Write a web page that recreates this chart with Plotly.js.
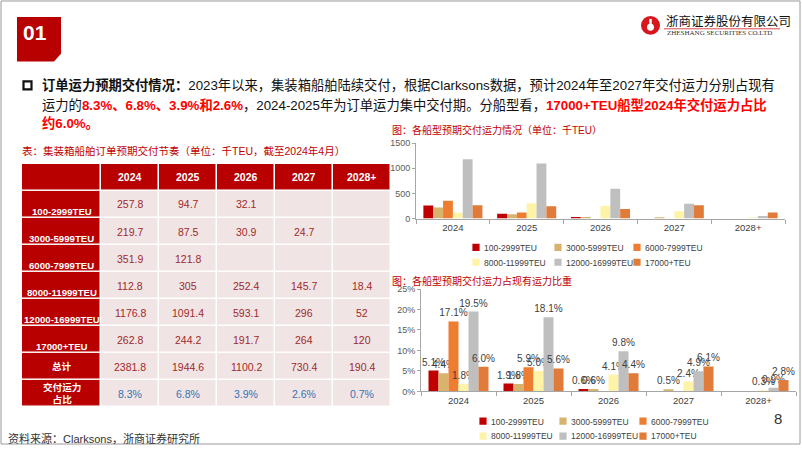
<!DOCTYPE html>
<html><head><meta charset="utf-8">
<script src="https://cdn.plot.ly/plotly-3.0.1.min.js"></script>
<style>
html,body{margin:0;padding:0;background:#fff;width:802px;height:451px;overflow:hidden;}
#chart{width:802px;height:451px;overflow:hidden;}
g.legendpoints path{transform:translate(32px,0px) scale(0.6) !important;}
</style>
</head><body><div id="chart"></div>
<script>
// ---------- data ----------
const years = ['2024', '2025', '2026', '2027', '2028+'];
const shipClasses = ['100-2999TEU', '3000-5999TEU', '6000-7999TEU', '8000-11999TEU', '12000-16999TEU', '17000+TEU'];
// delivery capacity, thousand TEU
const cap100 = [257.8, 94.7, 32.1, null, null];
const cap3000 = [219.7, 87.5, 30.9, 24.7, null];
const cap6000 = [351.9, 121.8, null, null, null];
const cap8000 = [112.8, 305, 252.4, 145.7, 18.4];
const cap12000 = [1176.8, 1091.4, 593.1, 296, 52];
const cap17000 = [262.8, 244.2, 191.7, 264, 120];
const capTotal = [2381.8, 1944.6, 1100.2, 730.4, 190.4];
const fleetShare = [8.3, 6.8, 3.9, 2.6, 0.7];
// share of existing fleet capacity, %
const pct100 = [5.1, 1.9, 0.6, null, null];
const pct3000 = [4.4, 1.8, 0.6, 0.5, null];
const pct6000 = [17.1, 5.9, null, null, null];
const pct8000 = [1.8, 5.0, 4.1, 2.4, 0.3];
const pct12000 = [19.5, 18.1, 9.8, 4.9, 0.9];
const pct17000 = [6.0, 5.6, 4.4, 6.1, 2.8];
const tableHeader = ['', '2024', '2025', '2026', '2027', '2028+'];
const tableRowLabels = ['', '100-2999TEU', '3000-5999TEU', '6000-7999TEU', '8000-11999TEU', '12000-16999TEU', '17000+TEU', '总计', '交付运力<br>占比'];

// ---------- styling ----------
const capacity = [cap100, cap3000, cap6000, cap8000, cap12000, cap17000];
const shares = [pct100, pct3000, pct6000, pct8000, pct12000, pct17000];
const barColors = ['#C00000', '#D8B36E', '#ED7D31', '#FFF3A8', '#BFBFBF', '#E07B39'];
const W = 802, H = 451;
const px = x => x / W, py = y => 1 - y / H;
const FONT = 'Liberation Sans, Arial, Noto Sans CJK SC, sans-serif';
const CJK = 'Liberation Sans, Noto Sans CJK SC, sans-serif';
const tableColWidths = [79, 58, 58, 58, 58, 58];
const RED = '#C00000';
// legend entry anchors (px): columns and rows for each chart
const leg1Cols = [444, 526, 605], leg1Rows = [249, 264];
const leg2Cols = [451, 531, 611], leg2Rows = [424, 439];

const traces = [];
const legendName = k => k === 0 ? 'legend' : 'legend' + (k + 1);
capacity.forEach((vals, i) => {
  traces.push({
    type: 'bar', x: years, y: vals, name: shipClasses[i],
    marker: {color: barColors[i]}, xaxis: 'x', yaxis: 'y',
    legend: legendName(i), hoverinfo: 'skip'
  });
});
shares.forEach((vals, i) => {
  traces.push({
    type: 'bar', x: years, y: vals, name: shipClasses[i],
    marker: {color: barColors[i]}, xaxis: 'x2', yaxis: 'y2',
    legend: legendName(6 + i), hoverinfo: 'skip',
    text: vals.map(v => v == null ? '' : v.toFixed(1) + '%'),
    textposition: 'outside', constraintext: 'none', cliponaxis: false,
    textfont: {size: 10, color: '#404040', family: FONT}
  });
});

// table as heatmap cells
const xEdges = [0];
tableColWidths.forEach(w => xEdges.push(xEdges[xEdges.length - 1] + w));
const rowIdx = tableRowLabels.map((_, r) => r);
const zCells = rowIdx.map(r => tableHeader.map((_, c) => (r === 0 || c === 0) ? 1 : 0));
traces.push({
  type: 'heatmap', x: xEdges, y: rowIdx, z: zCells, xaxis: 'x3', yaxis: 'y3',
  colorscale: [[0, '#F1E4E4'], [1, '#B80000']], showscale: false,
  xgap: 1.5, ygap: 1.5, hoverinfo: 'skip'
});

const annotations = [];
const colCenter = c => (xEdges[c] + xEdges[c + 1]) / 2;
tableHeader.forEach((t, c) => {
  if (!t) return;
  annotations.push({xref: 'x3', yref: 'y3', x: colCenter(c), y: 0, text: '<b>' + t + '</b>', showarrow: false,
    font: {family: FONT, size: 10.5, color: '#fff'}});
});
tableRowLabels.forEach((t, r) => {
  if (!t) return;
  annotations.push({xref: 'x3', yref: 'y3', x: colCenter(0), y: r, text: '<b>' + t + '</b>', showarrow: false,
    yshift: (r >= 1 && r <= 6) ? -7 : 0,
    font: {family: CJK, size: 9.6, color: '#fff'}});
});
capacity.forEach((vals, i) => {
  vals.forEach((v, c) => {
    if (v == null) return;
    annotations.push({xref: 'x3', yref: 'y3', x: colCenter(c + 1), y: i + 1, text: String(v), showarrow: false,
      font: {family: FONT, size: 10.5, color: '#9E2A2B'}});
  });
});
capTotal.forEach((v, c) => annotations.push({xref: 'x3', yref: 'y3', x: colCenter(c + 1), y: 7, text: String(v), showarrow: false,
  font: {family: FONT, size: 10.5, color: '#9E2A2B'}}));
fleetShare.forEach((v, c) => annotations.push({xref: 'x3', yref: 'y3', x: colCenter(c + 1), y: 8, text: v.toFixed(1) + '%', showarrow: false,
  font: {family: FONT, size: 10.5, color: '#2E75B6'}}));

// page texts
const txt = (x, y, text, size, color, extra) => Object.assign({xref: 'paper', yref: 'paper', x: px(x), y: py(y),
  xanchor: 'left', yanchor: 'middle', text: text, showarrow: false, font: {family: CJK, size: size, color: color}}, extra || {});
const R = s => '<b><span style="color:#FF0000">' + s + '</span></b>';
annotations.push(
  txt(21, 33, '<b>01</b>', 21, '#fff', {font: {family: FONT, size: 21, color: '#fff'}}),
  txt(664, 22, '浙商证券股份有限公司', 12.5, '#111'),
  txt(665, 33, 'ZHESHANG SECURITIES CO.LTD', 7, '#333', {font: {family: 'Liberation Serif, serif', size: 7, color: '#333'}}),
  txt(40, 86, '<b>订单运力预期交付情况：</b>2023年以来，集装箱船舶陆续交付，根据Clarksons数据，预计2024年至2027年交付运力分别占现有', 13.3, '#111'),
  txt(40, 106, '运力的' + R('8.3%、6.8%、3.9%和2.6%') + '，2024-2025年为订单运力集中交付期。分船型看，' + R('17000+TEU船型2024年交付运力占比'), 13.3, '#111'),
  txt(40, 124, R('约6.0%。'), 13.3, '#111'),
  txt(20, 152, '表：集装箱船舶订单预期交付节奏（单位：千TEU，截至2024年4月）', 10.5, RED),
  txt(390, 131, '图：各船型预期交付运力情况（单位：千TEU）', 10, RED),
  txt(390, 283, '图：各船型预期交付运力占现有运力比重', 10, RED),
  txt(6, 441, '资料来源：Clarksons，浙商证券研究所', 11, '#333'),
  txt(772, 421, '8', 15, '#333', {font: {family: FONT, size: 15, color: '#333'}})
);

const path = pts => pts.map((p, i) => (i ? 'L' : 'M') + px(p[0]) + ',' + py(p[1])).join(' ') + ' Z';
const shapes = [
  {type: 'rect', xref: 'paper', yref: 'paper', x0: px(1), x1: px(800), y0: py(1), y1: py(447), line: {color: '#9A9A9A', width: 1}},
  {type: 'path', xref: 'paper', yref: 'paper', path: path([[17, 17], [61, 17], [61, 54], [54, 62], [17, 62]]), fillcolor: '#B80000', line: {width: 0}},
  {type: 'rect', xref: 'paper', yref: 'paper', x0: px(23.5), x1: px(31.5), y0: py(82), y1: py(90), line: {color: '#111', width: 2.2}},
  {type: 'circle', xref: 'paper', yref: 'paper', x0: px(641), x1: px(660), y0: py(16), y1: py(35), fillcolor: '#D7161E', line: {width: 0}},
  {type: 'circle', xref: 'paper', yref: 'paper', x0: px(647), x1: px(654), y0: py(24), y1: py(31), fillcolor: '#fff', line: {width: 0}},
  {type: 'line', xref: 'paper', yref: 'paper', x0: px(650.5), x1: px(650.5), y0: py(19), y1: py(25), line: {color: '#fff', width: 2.5}},
  {type: 'line', xref: 'paper', yref: 'paper', x0: px(664), x1: px(780), y0: py(29), y1: py(29), line: {color: '#D7161E', width: 0.8}}
];

const legendBase = (x, y) => ({orientation: 'h', x: px(x), y: py(y), xanchor: 'left', yanchor: 'middle',
  font: {family: FONT, size: 8.5, color: '#404040'}, itemwidth: 30,
  bgcolor: 'rgba(0,0,0,0)', traceorder: 'normal', tracegroupgap: 0});

const axisCommon = {showline: true, linecolor: '#A6A6A6', linewidth: 1, showgrid: false, zeroline: false,
  tickfont: {family: FONT, size: 9.5, color: '#404040'}, tickcolor: '#A6A6A6', fixedrange: true};

const layout = {
  width: W, height: H, margin: {l: 0, r: 0, t: 0, b: 0}, paper_bgcolor: '#fff', plot_bgcolor: 'rgba(0,0,0,0)',
  showlegend: true, barmode: 'group', bargap: 0.2, bargroupgap: 0,
  font: {family: FONT},
  xaxis: Object.assign({}, axisCommon, {domain: [px(416), px(785)], anchor: 'y', type: 'category',
    ticks: 'outside', tickson: 'boundaries', ticklen: 4}),
  yaxis: Object.assign({}, axisCommon, {domain: [py(220), py(144)], anchor: 'x', range: [0, 1500], dtick: 500,
    ticks: 'outside', ticklen: 3, tickfont: {family: FONT, size: 9, color: '#595959'}}),
  xaxis2: Object.assign({}, axisCommon, {domain: [px(421), px(796)], anchor: 'y2', type: 'category',
    ticks: 'outside', tickson: 'boundaries', ticklen: 4}),
  yaxis2: Object.assign({}, axisCommon, {domain: [py(394), py(291)], anchor: 'x2', range: [0, 25], dtick: 5,
    ticksuffix: '%', ticks: 'outside', ticklen: 3, tickfont: {family: FONT, size: 9, color: '#595959'}}),
  xaxis3: {domain: [px(22), px(391)], anchor: 'y3', range: [0, xEdges[xEdges.length - 1]], visible: false, fixedrange: true},
  yaxis3: {domain: [py(410), py(165)], anchor: 'x3', range: [tableRowLabels.length - 0.5, -0.5], visible: false, fixedrange: true},
  annotations: annotations,
  shapes: shapes
};
for (let k = 0; k < 12; k++) {
  const chart2 = k >= 6, j = k % 6;
  const cols = chart2 ? leg2Cols : leg1Cols, rows = chart2 ? leg2Rows : leg1Rows;
  layout[legendName(k)] = legendBase(cols[j % 3], rows[Math.floor(j / 3)]);
}

Plotly.newPlot('chart', traces, layout, {displayModeBar: false, staticPlot: true});
</script></body></html>
